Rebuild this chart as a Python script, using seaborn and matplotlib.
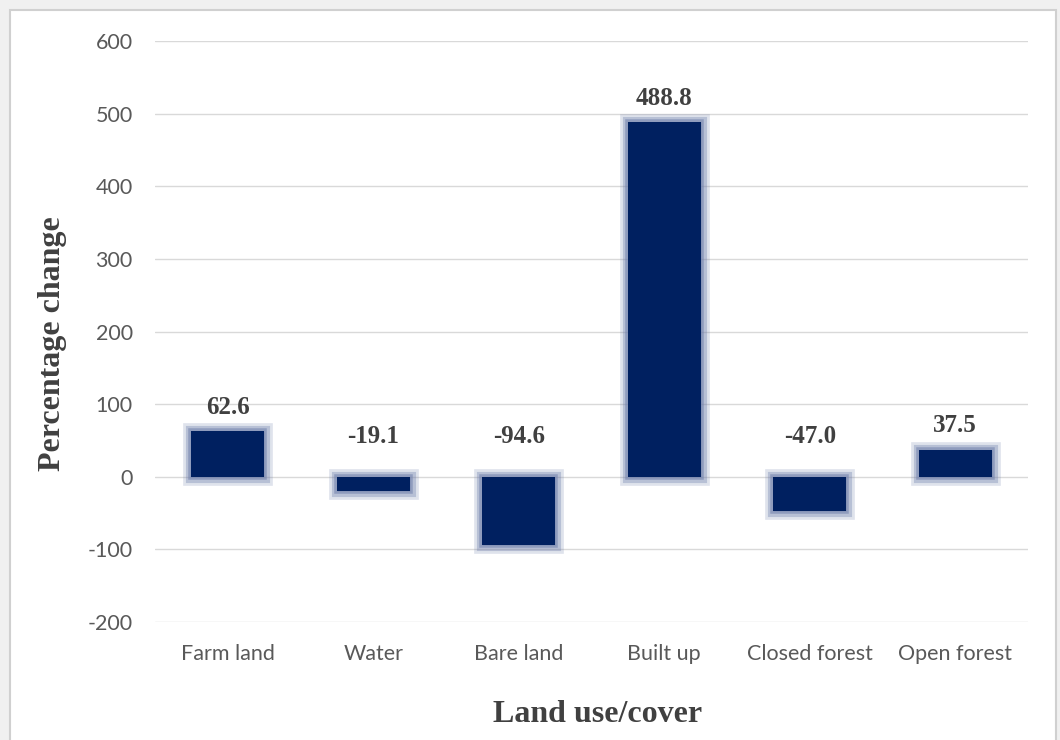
import pandas as pd
import matplotlib
matplotlib.use("Agg")
from matplotlib import pyplot as plt
from matplotlib.patches import Rectangle
import seaborn as sns

# data
categories = ["Farm land", "Water", "Bare land", "Built up", "Closed forest", "Open forest"]
pct_change = [62.6, -19.1, -94.6, 488.8, -47.0, 37.5]
y_ticks = [-200, -100, 0, 100, 200, 300, 400, 500, 600]

df = pd.DataFrame({"cover": categories, "change": pct_change})

sns.set_theme(style="white")
plt.rcParams["font.family"] = ["Lato", "DejaVu Sans"]
plt.rcParams["axes.unicode_minus"] = False
serif = ["Liberation Serif", "DejaVu Serif"]

fig = plt.figure(figsize=(10.6, 7.4), dpi=100, facecolor="#f0f0f0")
# white chart area with a light frame, like the exported office chart
fig.patches.append(Rectangle((10 / 1060, -0.01), 1046 / 1060, 1 - 10 / 740 + 0.01,
                             transform=fig.transFigure, facecolor="white",
                             edgecolor="#d0d0d0", lw=1.5, zorder=-5))
ax = fig.add_axes([155 / 1060, 1 - 622 / 740, 873 / 1060, 581 / 740])
ax.set_facecolor("none")

# soft glow round the bars, then the bars themselves
for lw, a in [(12, 0.22), (8, 0.35), (4, 0.55)]:
    sns.barplot(data=df, x="cover", y="change", color="#6f80ab", saturation=1,
                width=0.5, edgecolor="#6f80ab", linewidth=lw, alpha=a,
                errorbar=None, ax=ax)
sns.barplot(data=df, x="cover", y="change", color="#002060", saturation=1,
            width=0.5, linewidth=0, errorbar=None, ax=ax)

for i, v in enumerate(pct_change):
    off = 17 if v >= 0 else 29
    ax.annotate(f"{v:.1f}", xy=(i, max(v, 0)), xytext=(0, off),
                textcoords="offset points", ha="center", va="center",
                fontsize=18, fontweight="bold", family=serif, color="#404040")

ax.set_ylim(-200, 600)
ax.set_yticks(y_ticks)
ax.yaxis.grid(True, color="#d9d9d9", lw=1)
ax.set_axisbelow(True)
for s in ax.spines.values():
    s.set_visible(False)
ax.tick_params(axis="both", length=0, labelsize=15.5, labelcolor="#595959")
ax.tick_params(axis="y", pad=16)
ax.tick_params(axis="x", pad=16)

ax.set_xlabel("Land use/cover", fontsize=23, fontweight="bold", family=serif, color="#404040")
ax.set_ylabel("Percentage change", fontsize=23, fontweight="bold", family=serif, color="#404040")
ax.xaxis.set_label_coords(0.5074, -0.135)
ax.yaxis.set_label_coords(-0.1008, 0.4785)

fig.savefig("out.png", dpi=100, facecolor=fig.get_facecolor())
